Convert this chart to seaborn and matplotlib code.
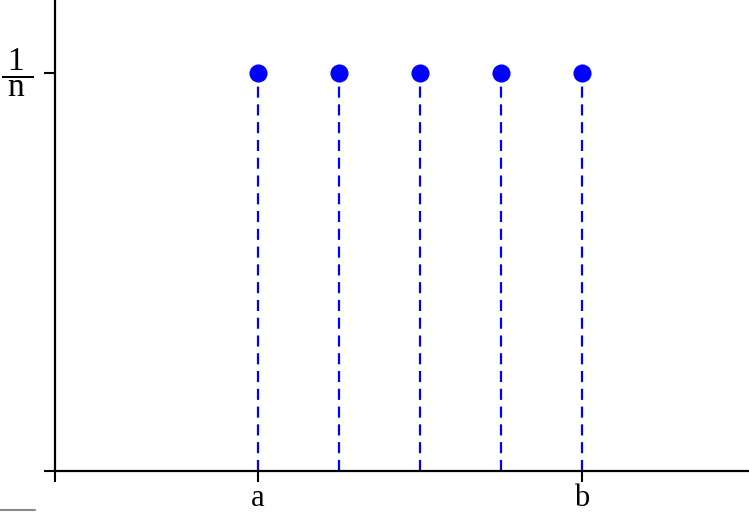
import matplotlib
matplotlib.use("Agg")
import matplotlib.pyplot as plt
import seaborn as sns
import pandas as pd
from matplotlib.lines import Line2D

# discrete uniform pmf on a..b (n = 5 points)
x_vals = [2.5, 3.5, 4.5, 5.5, 6.5]
p_vals = [0.2, 0.2, 0.2, 0.2, 0.2]
x_ticks = [0, 2.5, 6.5]
x_tick_labels = ["", "a", "b"]
y_ticks = [0, 0.2]
y_tick_labels = ["", r"$\dfrac{\;1\;}{\;\mathrm{n}\;}$"]

df = pd.DataFrame({"x": x_vals, "p": p_vals})

sns.set_style("white")
plt.rcParams["font.family"] = ["Liberation Serif", "DejaVu Serif"]
plt.rcParams["mathtext.fontset"] = "custom"
plt.rcParams["mathtext.rm"] = "Liberation Serif"
plt.rcParams["mathtext.it"] = "Liberation Serif:italic"
plt.rcParams["text.color"] = "black"
plt.rcParams["xtick.color"] = "black"
plt.rcParams["ytick.color"] = "black"

fig = plt.figure(figsize=(7.49, 5.13), dpi=100)
ax = fig.add_axes([55 / 749, 42 / 513, 1 - 55 / 749, 1 - 42 / 513])

ax.vlines(df["x"], 0, df["p"], colors="blue", linestyles=(0, (5, 3)), linewidth=1.6)
sns.scatterplot(data=df, x="x", y="p", ax=ax, color="blue", s=170,
                edgecolor="blue", linewidth=0, zorder=5, clip_on=False)

ax.set_xlim(0, 694 / 81)
ax.set_ylim(0, 0.2 * 471 / 398)
ax.set_xticks(x_ticks)
ax.set_xticklabels(x_tick_labels, fontsize=22)
ax.set_yticks(y_ticks)
ax.set_yticklabels(y_tick_labels, fontsize=24, va="center")
ax.tick_params(axis="both", direction="out", length=8, width=1.5,
               bottom=True, left=True, pad=1)
ax.tick_params(axis="y", pad=8)
ax.set_xlabel("")
ax.set_ylabel("")

for side in ["top", "right"]:
    ax.spines[side].set_visible(False)
for side in ["left", "bottom"]:
    ax.spines[side].set_linewidth(1.6)
    ax.spines[side].set_color("black")

# small grey mark at the bottom left corner
fig.add_artist(Line2D([0, 35 / 749], [3 / 513, 3 / 513], color="#888888", linewidth=1.5,
                      transform=fig.transFigure))

fig.savefig("out.png", dpi=100)
